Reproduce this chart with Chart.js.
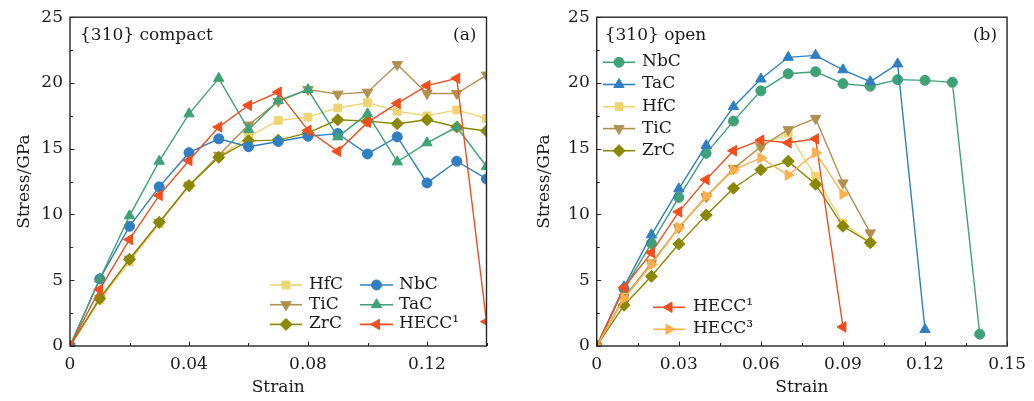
<!DOCTYPE html>
<html><head><meta charset="utf-8">
<script src="https://cdn.jsdelivr.net/npm/chart.js@4.4.0/dist/chart.umd.min.js"></script>
<style>
html,body{margin:0;padding:0;background:#fff;width:1034px;height:401px;overflow:hidden}
canvas{position:absolute;top:0}
#ca{left:0}
#cb{left:517px}
</style></head><body>
<canvas id="ca" width="517" height="401"></canvas>
<canvas id="cb" width="517" height="401"></canvas>
<script>
// ---------- data ----------
const strain = [0,0.01,0.02,0.03,0.04,0.05,0.06,0.07,0.08,0.09,0.10,0.11,0.12,0.13,0.14];

// (a) {310} compact
const hfcA   = [0,3.5,6.4,9.3,12.2,14.4,15.9,17.15,17.4,18.1,18.5,17.85,17.5,17.95,17.3];
const ticA   = [0,3.6,6.6,9.4,12.2,14.5,16.8,18.6,19.5,19.15,19.3,21.4,19.2,19.2,20.6];
const zrcA   = [0,3.6,6.6,9.4,12.2,14.35,15.6,15.65,16.2,17.2,17.1,16.9,17.2,16.65,16.35];
const nbcA   = [0,5.1,9.1,12.1,14.7,15.75,15.15,15.55,15.95,16.15,14.6,15.9,12.4,14.05,12.7];
const tacA   = [0,5.1,9.9,14.05,17.65,20.35,16.45,18.65,19.5,15.9,17.65,14.0,15.45,16.65,13.65];
const hecc1A = [0,4.3,8.1,11.45,14.1,16.65,18.3,19.3,16.4,14.8,17.0,18.45,19.8,20.35,1.85];

// (b) {310} open
const nbcB   = [0,4.35,7.8,11.3,14.65,17.1,19.4,20.7,20.85,19.95,19.75,20.25,20.2,20.05,0.9];
const tacB   = [0,4.5,8.45,11.95,15.25,18.2,20.3,21.95,22.1,21.0,20.1,21.45,1.25];
const hfcB   = [0,3.7,6.3,9.0,11.35,13.4,15.2,16.2,12.9,9.35,7.85];
const ticB   = [0,3.7,6.3,9.0,11.35,13.5,15.15,16.45,17.3,12.4,8.6];
const zrcB   = [0,3.1,5.3,7.75,9.95,12.0,13.4,14.05,12.3,9.1,7.85];
const hecc1B = [0,4.45,7.1,10.2,12.65,14.85,15.65,15.45,15.75,1.45];
const hecc3B = [0,3.6,6.2,9.0,11.4,13.4,14.3,13.0,14.7,11.55];

// ticks
const yTicks = [0,5,10,15,20,25];
const yMinor = [2.5,7.5,12.5,17.5,22.5];
const xTicksA = [0,0.04,0.08,0.12];
const xMinorA = [0.02,0.06,0.10,0.14];
const xTicksB = [0,0.03,0.06,0.09,0.12,0.15];
const xMinorB = [0.015,0.045,0.075,0.105,0.135];

// ---------- styling ----------
const FONT = "'DejaVu Serif', serif";
const TXT = '#1a1a1a';
const C = {
  yellow:'#EFD472', tan:'#B0914F', olive:'#8A8700', blue:'#2F7FC1',
  green:'#3FA277', red:'#F24E1E', orange:'#FFAF4C'
};

function ds(label, ys, color, style, rot, r, n, i){
  return {
    label, data: ys.map((v,k)=>({x: strain[k], y: v})),
    borderColor: color, backgroundColor: color,
    pointBackgroundColor: color, pointBorderColor: color,
    pointStyle: style, pointRotation: rot, pointRadius: r, pointHoverRadius: r,
    pointBorderWidth: 1, borderWidth: 1.4, showLine: true, tension: 0, fill: false,
    order: n - i
  };
}

const framePlugin = {
  id: 'frame',
  afterDraw(chart, args, o){
    const ctx = chart.ctx;
    const {left, right, top, bottom} = chart.chartArea;
    const x = chart.scales.x, y = chart.scales.y;
    ctx.save();
    // ticks (inward)
    ctx.strokeStyle = '#222'; ctx.lineWidth = 1;
    ctx.beginPath();
    o.xMajor.forEach(v=>{const p=Math.round(x.getPixelForValue(v))+0.5; ctx.moveTo(p,bottom); ctx.lineTo(p,bottom-4.5);});
    o.xMinor.forEach(v=>{const p=Math.round(x.getPixelForValue(v))+0.5; ctx.moveTo(p,bottom); ctx.lineTo(p,bottom-3);});
    yTicks.forEach(v=>{const p=Math.round(y.getPixelForValue(v))+0.5; ctx.moveTo(left,p); ctx.lineTo(left+4.5,p);});
    yMinor.forEach(v=>{const p=Math.round(y.getPixelForValue(v))+0.5; ctx.moveTo(left,p); ctx.lineTo(left+3,p);});
    ctx.stroke();
    // frame
    ctx.strokeStyle = '#262626'; ctx.lineWidth = 1.4;
    ctx.strokeRect(left, top, right-left, bottom-top);
    // panel texts
    ctx.fillStyle = TXT; ctx.font = '17px ' + FONT; ctx.textBaseline = 'alphabetic';
    ctx.textAlign = 'left'; ctx.fillText(o.title, left + o.titleDx, 39.5);
    ctx.textAlign = 'right'; ctx.fillText(o.tag, right - o.tagDx, 39.5);
    // legend
    ctx.textAlign = 'left'; ctx.textBaseline = 'middle';
    o.legend.forEach(e=>{
      const d = chart.data.datasets[e.i];
      ctx.strokeStyle = d.borderColor; ctx.lineWidth = 1.6;
      ctx.beginPath(); ctx.moveTo(e.x1, e.y); ctx.lineTo(e.x2, e.y); ctx.stroke();
      ctx.fillStyle = d.pointBackgroundColor; ctx.strokeStyle = d.pointBorderColor; ctx.lineWidth = 1;
      Chart.helpers.drawPoint(ctx, {pointStyle: d.pointStyle, rotation: d.pointRotation, radius: d.pointRadius, borderWidth: 1}, (e.x1+e.x2)/2, e.y);
      ctx.fillStyle = TXT;
      ctx.fillText(d.label, e.tx, e.y - 0.5);
    });
    ctx.restore();
  }
};

function scales(xTicks, xMax, yWidth, yTitlePad){
  const tickFont = {family: FONT, size: 17};
  return {
    x: {
      type: 'linear', min: 0, max: xMax,
      afterBuildTicks: s => { s.ticks = xTicks.map(v=>({value:v})); },
      afterFit: s => { s.height = 55; },
      grid: {display:false, drawTicks:false}, border: {display:false},
      ticks: {padding: 8, color: TXT, font: tickFont, maxRotation: 0, autoSkip: false,
              callback: v => v === 0 ? '0' : (+v).toFixed(2)},
      title: {display:true, text:'Strain', color: TXT, font: tickFont, padding:{top:0, bottom:3}}
    },
    y: {
      type: 'linear', min: 0, max: 25,
      afterBuildTicks: s => { s.ticks = yTicks.map(v=>({value:v})); },
      afterFit: s => { s.width = yWidth; },
      grid: {display:false, drawTicks:false}, border: {display:false},
      ticks: {padding: 7, color: TXT, font: tickFont, callback: v => String(v)},
      title: {display:true, text:'Stress/GPa', color: TXT, font: tickFont, padding:{top: yTitlePad, bottom:0}}
    }
  };
}

// ---------- chart (a) ----------
const dsA = [
  ['HfC', hfcA, C.yellow, 'rect', 0, 5.5],
  ['TiC', ticA, C.tan, 'triangle', 180, 6],
  ['ZrC', zrcA, C.olive, 'rectRot', 0, 6],
  ['NbC', nbcA, C.blue, 'circle', 0, 5],
  ['TaC', tacA, C.green, 'triangle', 0, 6],
  ['HECC\u00B9', hecc1A, C.red, 'triangle', 270, 6]
].map((a,i,arr)=>ds(a[0],a[1],a[2],a[3],a[4],a[5],arr.length,i));

new Chart(document.getElementById('ca'), {
  type: 'scatter',
  data: {datasets: dsA},
  options: {
    responsive: false, animation: false, events: [],
    layout: {padding: {left:0, right:30.5, top:14, bottom:0}},
    scales: scales(xTicksA, 0.14, 70, 14),
    plugins: {
      legend: {display:false}, tooltip: {enabled:false},
      frame: {
        xMajor: xTicksA, xMinor: xMinorA, title: '{310} compact', tag: '(a)', titleDx: 10, tagDx: 10,
        legend: [
          {i:0, x1:270, x2:302, tx:309, y:285},
          {i:1, x1:270, x2:302, tx:309, y:304.7},
          {i:2, x1:270, x2:302, tx:309, y:324.4},
          {i:3, x1:360, x2:393, tx:399, y:285},
          {i:4, x1:360, x2:393, tx:399, y:304.7},
          {i:5, x1:360, x2:393, tx:399, y:324.4}
        ]
      }
    }
  },
  plugins: [framePlugin]
});

// ---------- chart (b) ----------
const dsB = [
  ['NbC', nbcB, C.green, 'circle', 0, 5],
  ['TaC', tacB, C.blue, 'triangle', 0, 6],
  ['HfC', hfcB, C.yellow, 'rect', 0, 5.5],
  ['TiC', ticB, C.tan, 'triangle', 180, 6],
  ['ZrC', zrcB, C.olive, 'rectRot', 0, 6],
  ['HECC\u00B9', hecc1B, C.red, 'triangle', 270, 6],
  ['HECC\u00B3', hecc3B, C.orange, 'triangle', 90, 6]
].map((a,i,arr)=>ds(a[0],a[1],a[2],a[3],a[4],a[5],arr.length,i));

new Chart(document.getElementById('cb'), {
  type: 'scatter',
  data: {datasets: dsB},
  options: {
    responsive: false, animation: false, events: [],
    layout: {padding: {left:0, right:21.3, top:14, bottom:0}},
    scales: scales(xTicksB, 0.15, 79.7, 17),
    plugins: {
      legend: {display:false}, tooltip: {enabled:false},
      frame: {
        xMajor: xTicksB, xMinor: xMinorB, title: '{310} open', tag: '(b)', titleDx: 8, tagDx: 10,
        legend: [
          {i:0, x1:86, x2:118, tx:125, y:62.3},
          {i:1, x1:86, x2:118, tx:125, y:84.5},
          {i:2, x1:86, x2:118, tx:125, y:106.7},
          {i:3, x1:86, x2:118, tx:125, y:128.6},
          {i:4, x1:86, x2:118, tx:125, y:150.7},
          {i:5, x1:136, x2:168, tx:176, y:307.3},
          {i:6, x1:136, x2:168, tx:176, y:329.3}
        ]
      }
    }
  },
  plugins: [framePlugin]
});
</script>
</body></html>
